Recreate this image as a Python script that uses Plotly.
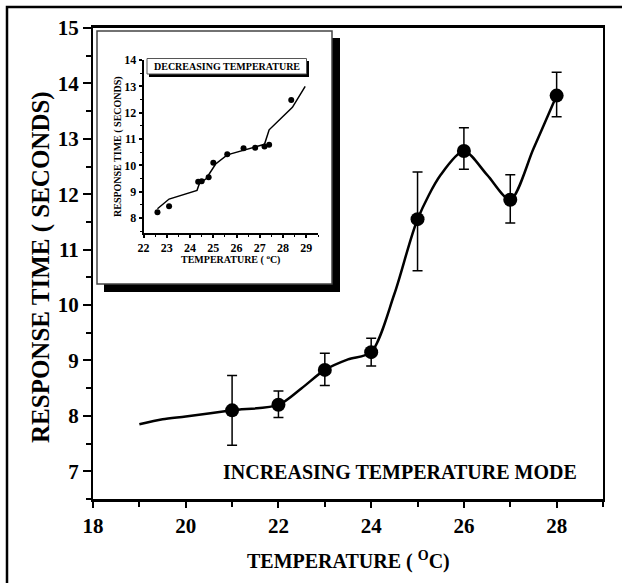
import plotly.graph_objects as go

# ---- main data (increasing temperature mode) ----
temp_main = [21, 22, 23, 24, 25, 26, 27, 28]
resp_main = [8.1, 8.2, 8.83, 9.15, 11.55, 12.78, 11.9, 13.78]
err_plus = [0.63, 0.25, 0.3, 0.25, 0.85, 0.42, 0.45, 0.42]
err_minus = [0.63, 0.23, 0.28, 0.25, 0.93, 0.33, 0.42, 0.38]

curve_x = [19, 19.5, 20, 21, 22, 22.5, 23, 23.5, 24, 24.5, 25, 25.5, 26, 26.5, 27, 27.5, 28]
curve_y = [7.85, 7.94, 7.99, 8.1, 8.2, 8.5, 8.83, 9.02, 9.15, 10.2, 11.55, 12.35, 12.78, 12.35, 11.9, 12.82, 13.78]

# ---- inset data (decreasing temperature) ----
temp_in = [22.6, 23.1, 24.35, 24.5, 24.8, 25.0, 25.6, 26.3, 26.8, 27.2, 27.4, 28.35]
resp_in = [8.22, 8.45, 9.38, 9.4, 9.55, 10.1, 10.42, 10.65, 10.67, 10.72, 10.78, 12.48]
fit_x = [22.6, 23.1, 24.3, 24.4, 24.7, 25.1, 25.6, 26.3, 27.2, 27.4, 28.4, 28.95]
fit_y = [8.35, 8.72, 9.05, 9.3, 9.5, 10.05, 10.4, 10.58, 10.8, 11.35, 12.2, 13.0]

FONT = "Liberation Serif, Times New Roman, Times, serif"
W, H = 622, 583
L, R, T, B = 93, 19, 28, 84
PW, PH = W - L - R, H - T - B


def px(x):
    return (x - L) / PW


def py(y):
    return (H - B - y) / PH


fig = go.Figure()

fig.add_trace(go.Scatter(x=curve_x, y=curve_y, mode="lines", line=dict(color="black", width=2.5, shape="spline", smoothing=0.8),
                         hoverinfo="skip", showlegend=False))
fig.add_trace(go.Scatter(x=temp_main, y=resp_main, mode="markers",
                         marker=dict(color="black", size=14),
                         error_y=dict(type="data", array=err_plus, arrayminus=err_minus, color="black", thickness=1.5, width=5),
                         showlegend=False))

fig.add_trace(go.Scatter(x=fit_x, y=fit_y, mode="lines", line=dict(color="black", width=1.5),
                         xaxis="x2", yaxis="y2", showlegend=False))
fig.add_trace(go.Scatter(x=temp_in, y=resp_in, mode="markers", marker=dict(color="black", size=6),
                         xaxis="x2", yaxis="y2", showlegend=False))

tickfont = dict(family=FONT, size=21, color="black", weight="bold")
fig.update_layout(
    width=W, height=H,
    margin=dict(l=L, r=R, t=T, b=B),
    font=dict(family=FONT, color="black"),
    paper_bgcolor="white", plot_bgcolor="rgba(0,0,0,0)",
    xaxis=dict(range=[18, 29], dtick=2, tick0=18, showgrid=False, zeroline=False,
               showline=True, linecolor="black", linewidth=2.5, mirror=True,
               ticks="outside", ticklen=6, tickwidth=2, tickcolor="black",
               minor=dict(dtick=1, ticks="outside", ticklen=5, tickwidth=2, tickcolor="black"),
               tickfont=tickfont),
    yaxis=dict(range=[6.5, 15], dtick=1, showgrid=False, zeroline=False,
               showline=True, linecolor="black", linewidth=2, mirror=True,
               ticks="outside", ticklen=8, tickwidth=2, tickcolor="black",
               minor=dict(dtick=0.5, ticks="outside", ticklen=5, tickwidth=2, tickcolor="black"),
               tickfont=tickfont),
    xaxis2=dict(domain=[px(143.5), px(318)], anchor="y2", range=[22, 29.5], dtick=1,
                showgrid=False, zeroline=False, showline=True, linecolor="black", linewidth=2,
                ticks="outside", ticklen=3, tickwidth=1.5, tickcolor="black",
                minor=dict(dtick=0.5, ticks="outside", ticklen=2, tickwidth=1, tickcolor="black"),
                tickfont=dict(family=FONT, size=12, color="black", weight="bold")),
    yaxis2=dict(domain=[py(232.5), py(60)], anchor="x2", range=[7.45, 14], dtick=1,
                showgrid=False, zeroline=False, showline=True, linecolor="black", linewidth=1.5,
                ticks="outside", ticklen=3, tickwidth=1.5, tickcolor="black",
                minor=dict(dtick=0.5, ticks="outside", ticklen=2, tickwidth=1, tickcolor="black"),
                tickfont=dict(family=FONT, size=12, color="black", weight="bold")),
)

shapes = [
    # outer frame
    dict(type="rect", xref="paper", yref="paper", x0=px(7), x1=px(630), y0=py(595), y1=py(7),
         line=dict(color="black", width=2.5), fillcolor="rgba(0,0,0,0)", layer="above"),
    # inset shadow
    dict(type="rect", xref="paper", yref="paper", x0=px(104), x1=px(340), y0=py(292), y1=py(38),
         line=dict(width=0), fillcolor="black", layer="below"),
    # inset box
    dict(type="rect", xref="paper", yref="paper", x0=px(97), x1=px(332), y0=py(284), y1=py(31),
         line=dict(color="#444", width=1.5), fillcolor="white", layer="below"),
    # inset title shadow
    dict(type="rect", xref="paper", yref="paper", x0=px(149), x1=px(309), y0=py(77), y1=py(61),
         line=dict(width=0), fillcolor="black", layer="above"),
    # inset title box
    dict(type="rect", xref="paper", yref="paper", x0=px(147), x1=px(306.5), y0=py(74), y1=py(58.5),
         line=dict(color="#555", width=1), fillcolor="white", layer="above"),
]
fig.update_layout(shapes=shapes)

ann = [
    dict(text="RESPONSE TIME ( SECONDS)", x=px(41), y=py(267), textangle=-90,
         font=dict(family=FONT, size=25, color="black", weight="bold")),
    dict(text="TEMPERATURE ( <sup>O</sup>C)", x=px(348), y=py(560),
         font=dict(family=FONT, size=20, color="black", weight="bold")),
    dict(text="INCREASING TEMPERATURE MODE", x=px(400), y=py(472),
         font=dict(family=FONT, size=20, color="black", weight="bold")),
    dict(text="DECREASING TEMPERATURE", x=px(227), y=py(66.5),
         font=dict(family=FONT, size=10, color="black", weight="bold")),
    dict(text="RESPONSE TIME ( SECONDS)", x=px(118), y=py(147), textangle=-90,
         font=dict(family=FONT, size=10, color="black", weight="bold")),
    dict(text="TEMPERATURE ( <sup>o</sup>C)", x=px(230), y=py(259),
         font=dict(family=FONT, size=10, color="black", weight="bold")),
]
for a in ann:
    a.update(xref="paper", yref="paper", showarrow=False, xanchor="center", yanchor="middle")
fig.update_layout(annotations=ann)

fig.write_html("out.html", config={"displayModeBar": False},
               post_script="document.body.style.margin='0';document.body.style.overflow='hidden';")
